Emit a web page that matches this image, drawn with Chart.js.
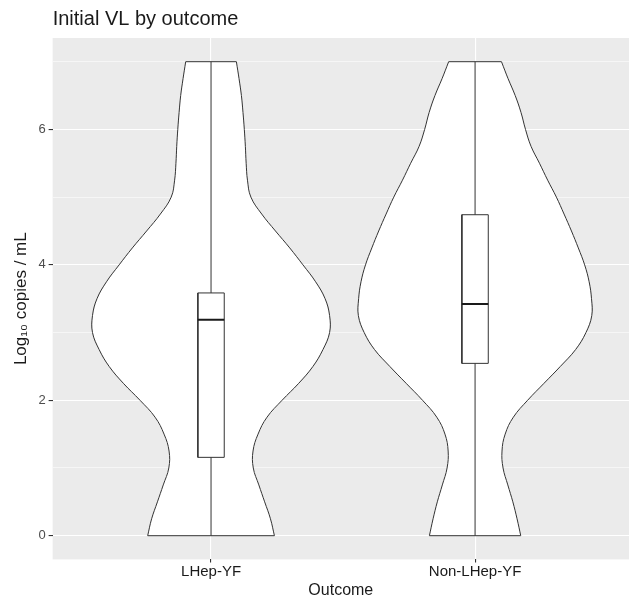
<!DOCTYPE html>
<html>
<head>
<meta charset="utf-8">
<script src="https://cdn.jsdelivr.net/npm/chart.js@4.4.0/dist/chart.umd.min.js"></script>
<style>
  body { margin: 0; background: #fff; overflow: hidden; }
</style>
</head>
<body>
<canvas id="chart" width="629" height="599"></canvas>
<script>
// categories and axis ticks
const categories = ['LHep-YF', 'Non-LHep-YF'];
const yTicks = [0, 1, 2, 3, 4, 5, 6, 7];

// violin half-widths (in category units) read at each log10 level
const yGrid = [0, 0.25, 0.5, 0.75, 1, 1.25, 1.5, 1.75, 2, 2.25, 2.5, 2.75, 3, 3.25, 3.5,
  3.75, 4, 4.25, 4.5, 4.75, 5, 5.25, 5.5, 5.75, 6, 6.25, 6.5, 6.75, 7];
const widthLHep = [0.240, 0.225, 0.203, 0.181, 0.160, 0.159, 0.178, 0.212, 0.269, 0.332, 0.386,
  0.424, 0.449, 0.449, 0.432, 0.396, 0.348, 0.298, 0.244, 0.192, 0.151, 0.138, 0.133, 0.130,
  0.126, 0.121, 0.115, 0.106, 0.096];
const widthNonLHep = [0.173, 0.159, 0.143, 0.124, 0.106, 0.102, 0.114, 0.145, 0.199, 0.261, 0.323,
  0.381, 0.420, 0.442, 0.441, 0.432, 0.415, 0.391, 0.365, 0.337, 0.308, 0.275, 0.244, 0.212,
  0.191, 0.174, 0.152, 0.125, 0.100];

// boxplot stats per category
const whiskerLow = [0, 0];
const q1 = [1.157, 2.545];
const median = [3.19, 3.42];
const q3 = [3.585, 4.74];
const whiskerHigh = [7, 7];

const LINE = '#333333';
const BOX_HALF = 0.05;

function line(data, opts) {
  return Object.assign({
    data: data,
    showLine: true,
    borderColor: LINE,
    borderWidth: 1,
    pointRadius: 0,
    fill: false,
    tension: 0
  }, opts || {});
}

const datasets = [];
[widthLHep, widthNonLHep].forEach((w, i) => {
  const c = i + 1;
  const right = yGrid.map((y, k) => ({ x: c + w[k], y: y }));
  const left = yGrid.map((y, k) => ({ x: c - w[k], y: y }));
  const n = yGrid.length - 1;

  // white body of the violin
  datasets.push(line(right.concat(left.slice().reverse()), {
    fill: 'shape', backgroundColor: '#ffffff', borderWidth: 0, borderColor: 'rgba(0,0,0,0)', order: 5
  }));
  // outline
  datasets.push(line(right, { tension: 0.4, order: 4 }));
  datasets.push(line(left, { tension: 0.4, order: 4 }));
  datasets.push(line([left[n], right[n]], { order: 4 }));
  datasets.push(line([left[0], right[0]], { order: 4 }));

  // box
  datasets.push(line([
    { x: c - BOX_HALF, y: q1[i] }, { x: c + BOX_HALF, y: q1[i] },
    { x: c + BOX_HALF, y: q3[i] }, { x: c - BOX_HALF, y: q3[i] },
    { x: c - BOX_HALF, y: q1[i] }
  ], { fill: 'shape', backgroundColor: '#ffffff', order: 2 }));
  datasets.push(line([{ x: c - BOX_HALF, y: median[i] }, { x: c + BOX_HALF, y: median[i] }],
    { borderWidth: 2, borderColor: '#1a1a1a', order: 1 }));
  datasets.push(line([{ x: c, y: whiskerLow[i] }, { x: c, y: q1[i] }], { order: 1 }));
  datasets.push(line([{ x: c, y: q3[i] }, { x: c, y: whiskerHigh[i] }], { order: 1 }));
});

// grey panel like ggplot
const panelBg = {
  id: 'panelBg',
  beforeDraw(chart) {
    const a = chart.chartArea;
    const ctx = chart.ctx;
    ctx.save();
    ctx.fillStyle = '#ebebeb';
    ctx.fillRect(a.left, a.top, a.right - a.left, a.bottom - a.top);
    ctx.restore();
  }
};

new Chart(document.getElementById('chart'), {
  type: 'scatter',
  data: { datasets: datasets },
  plugins: [panelBg],
  options: {
    responsive: false,
    animation: false,
    layout: { padding: { left: 10, right: 0, top: 0, bottom: 0 } },
    scales: {
      x: {
        type: 'linear',
        min: 0.4,
        max: 2.583,
        afterBuildTicks: axis => { axis.ticks = categories.map((_, i) => ({ value: i + 1 })); },
        ticks: {
          callback: v => categories[v - 1],
          color: '#1a1a1a',
          font: { family: 'Liberation Sans', size: 15, lineHeight: 1 },
          padding: 2,
          maxRotation: 0
        },
        grid: { color: '#ffffff', lineWidth: 1.1, tickColor: LINE, tickLength: 3 },
        border: { display: false },
        title: {
          display: true,
          text: 'Outcome',
          color: '#1a1a1a',
          font: { family: 'Liberation Sans', size: 16, lineHeight: 1.1 },
          padding: { top: 0, bottom: 0 }
        }
      },
      y: {
        type: 'linear',
        min: -0.35,
        max: 7.35,
        afterBuildTicks: axis => { axis.ticks = yTicks.map(v => ({ value: v })); },
        ticks: {
          callback: v => (v % 2 === 0 ? String(v) : ''),
          color: '#4d4d4d',
          font: { family: 'Liberation Sans', size: 13 },
          padding: 3
        },
        grid: {
          color: '#ffffff',
          lineWidth: ctx => (ctx.tick && ctx.tick.value % 2 === 0 ? 1.1 : 0.55),
          tickColor: ctx => (ctx.tick && ctx.tick.value % 2 === 0 ? LINE : 'rgba(0,0,0,0)'),
          tickLength: 4
        },
        border: { display: false },
        title: {
          display: true,
          text: 'Log₁₀ copies / mL',
          color: '#1a1a1a',
          font: { family: 'Liberation Sans', size: 17 },
          padding: { top: 1, bottom: 4 }
        }
      }
    },
    plugins: {
      legend: { display: false },
      tooltip: { enabled: false },
      title: {
        display: true,
        text: 'Initial VL by outcome',
        align: 'start',
        fullSize: false,
        color: '#1a1a1a',
        font: { family: 'Liberation Sans', size: 20, weight: 'normal' },
        padding: { top: 7, bottom: 7 }
      }
    }
  }
});
</script>
</body>
</html>
